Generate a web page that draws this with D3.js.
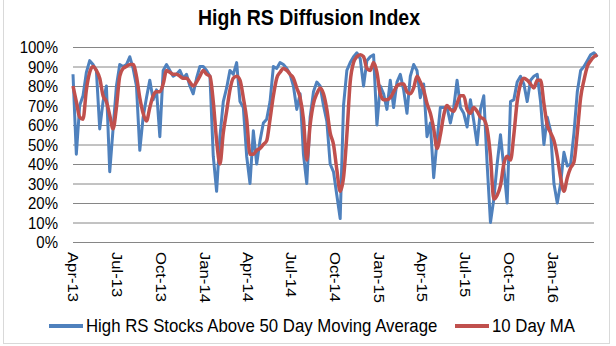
<!DOCTYPE html>
<html>
<head>
<meta charset="utf-8">
<script src="https://cdn.jsdelivr.net/npm/d3@7"></script>
<style>
  html, body { margin: 0; padding: 0; background: #fff; }
  svg { display: block; font-family: 'Liberation Sans', Arial, sans-serif; }
</style>
</head>
<body>
<svg id="chart"></svg>
<script>
// Weekly readings, first week starts 1 Apr 2013
const startDate = '2013-04-01';
const endDate = '2016-03-28';

// High RS stocks above their 50 day moving average (%)
const aboveMA = [
  86, 45, 70, 75, 87, 93, 91, 88, 58, 72,
  80, 36, 58, 80, 91, 90, 91, 95, 89, 80,
  47, 64, 74, 83, 73, 78, 54, 88, 91, 88,
  85, 86, 88, 84, 86, 80, 76, 84, 90, 90,
  88, 85, 44, 26, 54, 72, 79, 88, 86, 92,
  72, 69, 44, 30, 57, 40, 52, 61, 63, 72,
  90, 89, 92, 91, 89, 86, 80, 68, 76, 45,
  30, 64, 77, 82, 80, 70, 62, 40, 36, 24,
  12, 70, 88, 92, 95, 97, 94, 80, 93, 95,
  96, 60, 80, 76, 68, 83, 69, 82, 86, 78,
  66, 85, 91, 88, 74, 81, 54, 61, 33, 52,
  69, 69, 69, 61, 69, 83, 69, 66, 59, 73,
  62, 50, 68, 75, 40, 10, 22, 40, 55, 38,
  20, 72, 73, 82, 85, 81, 72, 83, 85, 86,
  72, 50, 64, 57, 30, 20, 30, 46, 39, 40,
  56, 77, 88, 90, 93, 96, 97, 95
];

// 10 day moving average (%)
const tenDayMA = [
  80, 72, 64, 63, 78, 87, 90, 88, 84, 75,
  72, 65, 58, 69, 85, 89, 90, 91, 91, 85,
  74, 66, 62, 69, 75, 77, 77, 81, 88, 87,
  86, 86, 85, 84, 84, 82, 80, 82, 85, 88,
  86, 85, 72, 52, 40, 56, 67, 78, 84, 85,
  83, 74, 63, 45, 45, 47, 48, 50, 52, 63,
  75, 84, 87, 89, 88, 86, 84, 79, 74, 63,
  42, 60, 71, 76, 79, 76, 68, 56, 50, 37,
  26, 33, 55, 82, 92, 95, 96, 95, 89, 88,
  92, 87, 76, 73, 73, 74, 77, 80, 81, 81,
  77, 76, 79, 85, 82, 78, 71, 66, 58, 48,
  55, 65, 70, 68, 67, 71, 75, 75, 68, 66,
  69, 67, 64, 63, 58, 44, 22, 24, 29, 40,
  44, 42, 55, 72, 81, 84, 83, 81, 79, 83,
  83, 71, 60, 56, 52, 44, 33, 26, 33, 38,
  41, 56, 74, 83, 90, 93, 95, 96
];

const yTicks = [0, 10, 20, 30, 40, 50, 60, 70, 80, 90, 100];
const seriesNames = ['High RS Stocks Above 50 Day Moving Average', '10 Day MA'];
const colors = ['#4f81bd', '#c0504d'];

const width = 616;
const height = 346;
const marginLeft = 73;
const marginRight = 22;
const marginTop = 47;
const marginBottom = 104;

const start = d3.isoParse(startDate);
const dates = aboveMA.map((_, i) => d3.timeDay.offset(start, i * 7));

const svg = d3.select('#chart')
  .attr('width', width)
  .attr('height', height)
  .attr('viewBox', [0, 0, width, height]);

// chart border
svg.append('rect')
  .attr('x', 3.5)
  .attr('y', -1)
  .attr('width', 606)
  .attr('height', 344.5)
  .attr('fill', 'none')
  .attr('stroke', '#d9d9d9');

const x = d3.scaleUtc()
  .domain([start, d3.isoParse(endDate)])
  .range([marginLeft, width - marginRight]);

const y = d3.scaleLinear()
  .domain([0, 100])
  .range([height - marginBottom, marginTop]);

// Title (text in the source is a bit taller than plain Arial)
svg.append('text')
  .attr('transform', 'translate(309,25) scale(1,1.1)')
  .attr('text-anchor', 'middle')
  .attr('font-weight', 'bold')
  .attr('font-size', 19.5)
  .text('High RS Diffusion Index');

// Y axis + gridlines
svg.append('g')
  .attr('transform', `translate(${marginLeft},0)`)
  .call(d3.axisLeft(y).tickValues(yTicks).tickFormat(d => d + '%').tickSize(0).tickPadding(15))
  .call(g => g.select('.domain').remove())
  .call(g => g.selectAll('.tick text')
    .attr('font-size', 15)
    .attr('font-family', null)
    .attr('fill', '#000')
    .attr('transform', 'scale(1,1.15)'))
  .call(g => g.selectAll('.tick line')
    .attr('x2', width - marginLeft - marginRight)
    .attr('stroke', '#868686'));

// X axis
svg.append('g')
  .attr('transform', `translate(0,${height - marginBottom})`)
  .call(d3.axisBottom(x).ticks(d3.utcMonth.every(3)).tickFormat(d3.utcFormat('%b-%y')).tickSize(0))
  .call(g => g.select('.domain').remove())
  .call(g => g.selectAll('.tick text')
    .attr('font-size', 14.5)
    .attr('font-family', null)
    .attr('fill', '#000')
    .attr('text-anchor', 'start')
    .attr('x', 0)
    .attr('y', 0)
    .attr('dy', '0.35em')
    .attr('transform', 'translate(0,10) scale(1,1.15) rotate(90)'));

// Lines
const line = d3.line()
  .x((d, i) => x(dates[i]))
  .y(d => y(d));

svg.append('path')
  .datum(aboveMA)
  .attr('fill', 'none')
  .attr('stroke', colors[0])
  .attr('stroke-width', 3)
  .attr('stroke-linejoin', 'round')
  .attr('d', line);

svg.append('path')
  .datum(tenDayMA)
  .attr('fill', 'none')
  .attr('stroke', colors[1])
  .attr('stroke-width', 3.5)
  .attr('stroke-linejoin', 'round')
  .attr('d', line.curve(d3.curveMonotoneX));

// Legend
const legendX = [49, 455];
const legend = svg.append('g')
  .selectAll('g')
  .data(seriesNames)
  .join('g')
  .attr('transform', (d, i) => `translate(${legendX[i]},326)`);

legend.append('line')
  .attr('x1', 0)
  .attr('x2', 34)
  .attr('stroke', (d, i) => colors[i])
  .attr('stroke-width', 4);

legend.append('text')
  .attr('x', 37)
  .attr('dy', '0.35em')
  .attr('font-size', 16.8)
  .attr('transform', 'scale(1,1.1)')
  .attr('transform-origin', '0 0')
  .text(d => d);
</script>
</body>
</html>
